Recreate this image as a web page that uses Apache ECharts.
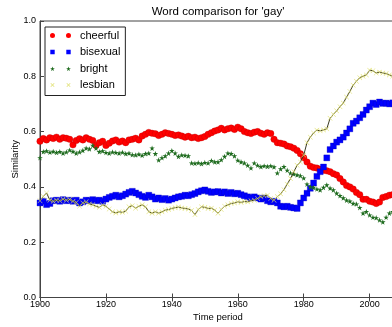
<!DOCTYPE html>
<html>
<head>
<meta charset="utf-8">
<script src="https://cdn.jsdelivr.net/npm/echarts@6/dist/echarts.min.js"></script>
<style>
html,body{margin:0;padding:0;background:#fff;}
#chart{width:392px;height:327px;}
</style>
</head>
<body>
<div id="chart"></div>
<script>
// ---- data ----
var startYear = 1900;
var cheerful = [
0.565,0.575,0.570,0.578,0.575,0.580,0.572,0.578,0.576,0.572,
0.552,0.568,0.574,0.570,0.578,0.572,0.568,0.550,0.560,0.565,
0.550,0.558,0.566,0.570,0.562,0.566,0.560,0.570,0.572,0.576,
0.570,0.584,0.590,0.597,0.594,0.592,0.586,0.590,0.596,0.593,
0.590,0.586,0.588,0.584,0.580,0.583,0.578,0.580,0.575,0.578,
0.582,0.590,0.596,0.602,0.606,0.612,0.606,0.610,0.613,0.608,
0.616,0.610,0.600,0.596,0.593,0.598,0.600,0.594,0.590,0.596,
0.593,0.572,0.560,0.558,0.555,0.548,0.545,0.540,0.532,0.520,
0.505,0.490,0.475,0.470,0.468,0.464,0.460,0.458,0.455,0.448,
0.443,0.430,0.418,0.405,0.400,0.392,0.380,0.372,0.355,0.355,
0.348,0.345,0.340,0.345,0.362,0.365,0.370,0.372,0.368];
var bisexual = [
0.342,0.348,0.336,0.340,0.350,0.352,0.348,0.354,0.350,0.352,
0.348,0.352,0.342,0.346,0.352,0.350,0.354,0.350,0.352,0.348,
0.356,0.362,0.366,0.370,0.364,0.368,0.374,0.380,0.384,0.378,
0.372,0.366,0.362,0.370,0.364,0.356,0.360,0.354,0.358,0.352,
0.356,0.360,0.364,0.366,0.370,0.368,0.372,0.376,0.382,0.386,
0.389,0.384,0.380,0.382,0.383,0.378,0.382,0.376,0.380,0.375,
0.377,0.372,0.368,0.364,0.360,0.364,0.360,0.356,0.360,0.350,
0.346,0.348,0.342,0.330,0.328,0.330,0.326,0.324,0.322,0.342,
0.360,0.377,0.395,0.414,0.438,0.455,0.472,0.505,0.535,0.548,
0.562,0.570,0.580,0.595,0.610,0.630,0.638,0.650,0.662,0.678,
0.690,0.703,0.698,0.707,0.702,0.703,0.700,0.704,0.702];
var bright = [
0.505,0.527,0.530,0.525,0.528,0.524,0.527,0.522,0.526,0.533,
0.528,0.522,0.526,0.532,0.540,0.537,0.550,0.540,0.527,0.530,
0.524,0.522,0.526,0.524,0.522,0.525,0.520,0.522,0.516,0.515,
0.518,0.514,0.520,0.522,0.540,0.520,0.497,0.505,0.512,0.522,
0.531,0.522,0.510,0.515,0.514,0.512,0.486,0.485,0.487,0.484,
0.488,0.486,0.495,0.490,0.490,0.498,0.510,0.522,0.520,0.512,
0.496,0.490,0.486,0.478,0.468,0.486,0.478,0.473,0.476,0.474,
0.476,0.472,0.450,0.465,0.473,0.460,0.450,0.447,0.443,0.440,
0.432,0.410,0.400,0.398,0.392,0.389,0.398,0.407,0.395,0.389,
0.377,0.368,0.360,0.352,0.348,0.340,0.338,0.325,0.305,0.310,
0.298,0.290,0.288,0.280,0.273,0.290,0.305,0.310,0.312];
var lesbian = [
0.350,0.365,0.378,0.352,0.348,0.352,0.350,0.356,0.352,0.355,
0.348,0.344,0.330,0.342,0.346,0.338,0.335,0.330,0.326,0.335,
0.330,0.320,0.310,0.306,0.310,0.308,0.312,0.328,0.332,0.323,
0.330,0.335,0.328,0.310,0.305,0.310,0.305,0.310,0.316,0.318,
0.322,0.325,0.327,0.324,0.322,0.320,0.315,0.300,0.318,0.328,
0.326,0.322,0.323,0.316,0.305,0.318,0.330,0.335,0.340,0.342,
0.346,0.344,0.347,0.346,0.350,0.352,0.358,0.365,0.368,0.370,
0.358,0.352,0.365,0.375,0.390,0.410,0.430,0.455,0.478,0.490,
0.515,0.560,0.580,0.595,0.605,0.603,0.606,0.610,0.648,0.662,
0.675,0.690,0.703,0.725,0.745,0.768,0.782,0.795,0.800,0.805,
0.822,0.820,0.812,0.815,0.812,0.810,0.805,0.800,0.798];
var seriesNames = ['cheerful','bisexual','bright','lesbian'];
var xTicks = [1900, 1920, 1940, 1960, 1980, 2000];
var yTicks = [0.0, 0.2, 0.4, 0.6, 0.8, 1.0];

function pairs(arr){
  var out = [];
  for (var i = 0; i < arr.length; i++) out.push([startYear + i, arr[i]]);
  return out;
}

var FONT = 'Liberation Sans, Arial, sans-serif';
var STAR = 'path://M5 0 L6.2 3.6 L10 3.6 L6.9 5.9 L8.1 9.5 L5 7.3 L1.9 9.5 L3.1 5.9 L0 3.6 L3.8 3.6 Z';
var XMARK = 'path://M0 0.7 L0.7 0 L5 4.3 L9.3 0 L10 0.7 L5.7 5 L10 9.3 L9.3 10 L5 5.7 L0.7 10 L0 9.3 L4.3 5 Z';

// legend icons: two markers each, bbox 21 x 5
var icCircle = 'path://M0 2.5 A2.5 2.5 0 1 1 5 2.5 A2.5 2.5 0 1 1 0 2.5 Z M16 2.5 A2.5 2.5 0 1 1 21 2.5 A2.5 2.5 0 1 1 16 2.5 Z';
var icSquare = 'path://M0.3 0.3 L4.7 0.3 L4.7 4.7 L0.3 4.7 Z M16.3 0.3 L20.7 0.3 L20.7 4.7 L16.3 4.7 Z M0 0 M21 5';
var icStar = 'path://M2.5 0.5 L3.1 2.2 L4.9 2.2 L3.4 3.3 L4 5 L2.5 4 L1 5 L1.6 3.3 L0.1 2.2 L1.9 2.2 Z M18.5 0.5 L19.1 2.2 L20.9 2.2 L19.4 3.3 L20 5 L18.5 4 L17 5 L17.6 3.3 L16.1 2.2 L17.9 2.2 Z M0 0 M21 5';
var icX = 'path://M0.5 1 L1 0.5 L2.5 2 L4 0.5 L4.5 1 L3 2.5 L4.5 4 L4 4.5 L2.5 3 L1 4.5 L0.5 4 L2 2.5 Z M16.5 1 L17 0.5 L18.5 2 L20 0.5 L20.5 1 L19 2.5 L20.5 4 L20 4.5 L18.5 3 L17 4.5 L16.5 4 L18 2.5 Z M0 0 M21 5';

var chart = echarts.init(document.getElementById('chart'), null, {renderer: 'canvas'});
var option = {
  backgroundColor: '#ffffff',
  animation: false,
  textStyle: {fontFamily: FONT},
  title: {
    text: "Word comparison for 'gay'",
    left: 218, top: 6, padding: 0, textAlign: 'center',
    textStyle: {fontSize: 11.5, fontWeight: 'normal', color: '#000', fontFamily: FONT}
  },
  legend: {
    orient: 'vertical', left: 45, top: 27,
    padding: [2, 5, 4, 5],
    itemWidth: 21, itemHeight: 5, itemGap: 3.5,
    borderColor: '#222', borderWidth: 1, borderRadius: 0,
    backgroundColor: '#fff',
    textStyle: {fontSize: 11, color: '#000', fontFamily: FONT, lineHeight: 13, padding: [0,0,0,4]},
    data: [
      {name: seriesNames[0], icon: icCircle, itemStyle: {color: '#ff0000', borderWidth: 0}},
      {name: seriesNames[1], icon: icSquare, itemStyle: {color: '#0000ff', borderWidth: 0}},
      {name: seriesNames[2], icon: icStar},
      {name: seriesNames[3], icon: icX, itemStyle: {color: '#e0e070'}}
    ]
  },
  grid: {left: 40, top: 21, right: -4, bottom: 29.5, outerBoundsMode: 'none', containLabel: false,
         show: true, borderColor: '#444', borderWidth: 1},
  xAxis: [{
    type: 'value', min: 1900, max: 2008, interval: 20,
    name: 'Time period', nameLocation: 'middle', nameGap: 15, nameMoveOverlap: false,
    nameTextStyle: {fontSize: 9.5, color: '#000', fontFamily: FONT},
    axisLine: {show: true, onZero: false, lineStyle: {color: '#444', width: 1}},
    axisTick: {show: true, inside: true, length: 4, lineStyle: {color: '#444'}},
    axisLabel: {fontSize: 9, color: '#000', margin: 3, showMaxLabel: false,
      formatter: function(v){ return xTicks.indexOf(v) >= 0 ? String(v) : ''; }},
    splitLine: {show: false}
  }, {
    type: 'value', position: 'top', min: 1900, max: 2008, interval: 20,
    axisLine: {show: true, lineStyle: {color: '#444', width: 1}},
    axisTick: {show: true, inside: true, length: 4, lineStyle: {color: '#444'}},
    axisLabel: {show: false}, splitLine: {show: false}
  }],
  yAxis: {
    type: 'value', min: 0, max: 1, interval: 0.2,
    name: 'Similarity', nameLocation: 'middle', nameGap: 20, nameMoveOverlap: false,
    nameTextStyle: {fontSize: 9.5, color: '#000', fontFamily: FONT},
    axisLine: {show: true, lineStyle: {color: '#444', width: 1}},
    axisTick: {show: true, inside: true, length: 4, lineStyle: {color: '#444'}},
    axisLabel: {fontSize: 9, color: '#000', margin: 4,
      formatter: function(v){ return v.toFixed(1); }},
    splitLine: {show: false}
  },
  series: [
    {
      name: seriesNames[0], type: 'scatter', data: pairs(cheerful),
      symbol: 'circle', symbolSize: 6.5,
      itemStyle: {color: '#ff0000', borderColor: '#b00000', borderWidth: 0.3, opacity: 1}
    },
    {
      name: seriesNames[1], type: 'scatter', data: pairs(bisexual),
      symbol: 'rect', symbolSize: 6,
      itemStyle: {color: '#0000ff', borderColor: '#0000b0', borderWidth: 0.3, opacity: 1}
    },
    {
      name: seriesNames[2], type: 'scatter', data: pairs(bright),
      symbol: STAR, symbolSize: 5.5,
      itemStyle: {color: '#1e6b1e', opacity: 1}
    },
    {
      name: seriesNames[3], type: 'line', data: pairs(lesbian),
      symbol: XMARK, symbolSize: 5, showSymbol: true,
      itemStyle: {color: '#e0e070', opacity: 1},
      lineStyle: {color: '#3a3a22', width: 1}
    }
  ]
};
chart.setOption(option);
</script>
</body>
</html>
